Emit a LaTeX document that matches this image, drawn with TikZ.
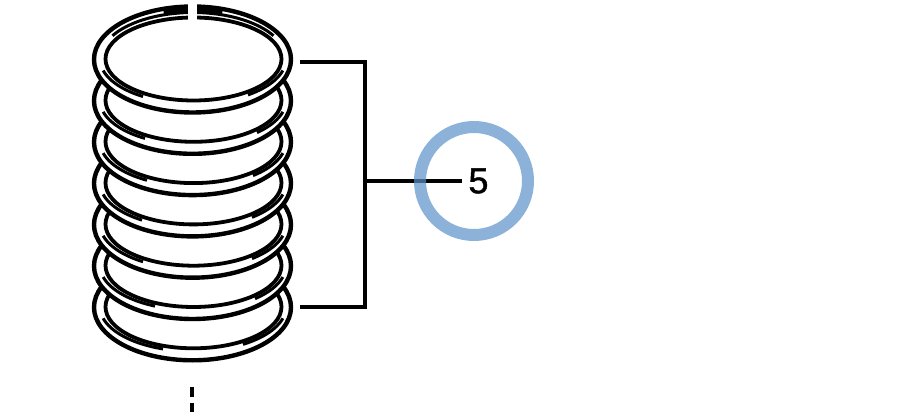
\documentclass[tikz,border=0pt]{standalone}
\usepackage{fontspec}
\setmainfont{Liberation Sans}
\newfontfamily\numfont[FakeBold=1.2]{Liberation Sans}
\definecolor{ringblue}{RGB}{92,146,201}
\tikzset{
  outerring/.style={draw=black,fill=white,line width=4.4pt},
  innerring/.style={draw=black,line width=3.8pt},
  ringmark/.style={draw=black,line width=3pt,line cap=butt},
  bracket/.style={draw=black,line width=3.4pt,line cap=butt},
  callout/.style={draw=ringblue,draw opacity=.7,line width=12pt},
}
\begin{document}
\begin{tikzpicture}[x=1pt,y=-1pt]
\useasboundingbox (0,0) rectangle (916,412);
\fill[white] (0,0) rectangle (916,412);
% rings, painted from the lowest up
\foreach \i/\xl/\xr in {6/163/243,5/155/255,4/143/252,3/142/252,2/147/253,1/145/257,0/143/248}{
  \pgfmathsetmacro{\cy}{59+41.3*\i}
  \pgfmathsetmacro{\al}{acos((\xl-193)/93)}
  \pgfmathsetmacro{\ar}{acos((\xr-193)/93)}
  \path[outerring] (192.5,\cy+.5) ellipse [x radius=98.5,y radius=53];
  \path[innerring] (193.5,\cy) ellipse [x radius=88,y radius=41.5];
  \draw[ringmark] plot[smooth,domain=\al:165,samples=24] ({193+93*cos(\x)},{\cy+44.5*sin(\x)});
  \draw[ringmark] plot[smooth,domain=\ar:15,samples=24] ({193+93*cos(\x)},{\cy+44.5*sin(\x)});
}
% marks on the top of the upper ring
\draw[ringmark] plot[smooth,domain=-92:-30,samples=24] ({193+93*cos(\x)},{59+46.5*sin(\x)});
\draw[ringmark] plot[smooth,domain=-88:-150,samples=24] ({193+93*cos(\x)},{59+46.5*sin(\x)});
\draw[line width=4pt] plot[smooth,domain=-92:-72,samples=12] ({193+95*cos(\x)},{59+49.5*sin(\x)});
\draw[line width=4pt] plot[smooth,domain=-88:-108,samples=12] ({193+95*cos(\x)},{59+49.5*sin(\x)});
% gap in the upper ring
\fill[white] (188,0) -- (197,0) -- (197,23) -- (188,23) -- cycle;
% bracket and callout
\coordinate (bt) at (300,62);
\coordinate (bb) at (300,307);
\coordinate (bv) at (365,62);
\coordinate (bw) at (365,307);
\coordinate (bm) at (365,181);
\node[font=\numfont\fontsize{36}{36}\selectfont,inner sep=0pt,anchor=center] (five) at (478.5,181) {5};
\draw[bracket] (bt) -- (bv) -- (bw) -- (bb);
\draw[bracket] (bm) -- (462,181);
\node[circle,callout,minimum size=108pt,inner sep=0pt] (ring) at (474,181) {};
% dashed axis
\coordinate (d1) at (192,387);
\coordinate (d2) at (192,397);
\coordinate (d3) at (192,403);
\coordinate (d4) at (192,412);
\draw[bracket] (d1) -- (d2);
\draw[bracket] (d3) -- (d4);
\end{tikzpicture}
\end{document}
